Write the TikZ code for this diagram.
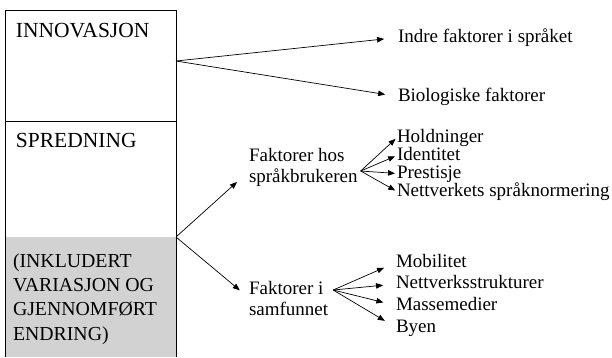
\documentclass[tikz,border=0pt]{standalone}
\usepackage{fontspec}
\setmainfont{Liberation Serif}
\newfontfamily\tidfont{Liberation Serif}
\usetikzlibrary{arrows.meta,positioning,calc}
\tikzset{pil/.style={-{Triangle[length=7pt,width=5.5pt]}, line width=0.7pt}}
\newcommand\overskrift{\tidfont\fontsize{21.5}{24}\selectfont}
\newcommand\boksfont{\tidfont\fontsize{19.8}{24.3}\selectfont}
\newcommand\liten{\tidfont\fontsize{19}{21}\selectfont}

\begin{document}
\begin{tikzpicture}[x=1pt, y=-1pt, every node/.style={inner sep=0pt, outer sep=0pt},
    faktor/.style={font=\liten, text height=13pt, text depth=4pt, anchor=west}]
  \useasboundingbox (0,0) rectangle (612,357);

  % boksen til venstre
  \fill[gray!35] (5,237) rectangle (176,357);
  \draw[line width=0.8pt] (5,357) -- (5,10) -- (176,10) -- (176,357);
  \draw[line width=0.8pt] (5,121) -- (176,121);
  \node[anchor=base west, font=\overskrift] (innov) at (16,37) {INNOVASJON};
  \node[anchor=base west, font=\overskrift] (spred) at (16,147) {SPREDNING};
  \node[anchor=north west, align=left, font=\boksfont] (inkl) at (13,253.5)
    {(INKLUDERT\\VARIASJON OG\\GJENNOMFØRT\\ENDRING)};
  \coordinate (innout) at (176,61);
  \coordinate (spredout) at (176,237);

  % innovasjon
  \node[faktor] (indre) at (398,37.5) {Indre faktorer i språket};
  \node[faktor] (bio) at (398,96.5) {Biologiske faktorer};
  \draw[pil, shorten >=14pt] (innout) -- (indre.west);
  \draw[pil, shorten >=13pt] (innout) -- (bio.west);

  % spredning
  \node[anchor=west, align=left, font=\liten] (fhos) at (249,167) {Faktorer hos\\språkbrukeren};
  \node[anchor=west, align=left, font=\liten] (fsam) at (249,298) {Faktorer i\\samfunnet};
  \draw[pil] (spredout) -- ($(fhos.west)+(-12,15)$);
  \draw[pil, shorten >=12pt] (spredout) -- (fsam.west);

  \node[faktor] (hold) at (397,137.5) {Holdninger};
  \node[faktor] (ident) at (397,155.5) {Identitet};
  \node[faktor] (prest) at (397,173.5) {Prestisje};
  \node[faktor] (nett) at (397,191.5) {Nettverkets språknormering};
  \foreach \m in {hold,ident,prest,nett}
    \draw[pil, shorten >=2pt] ($(fhos.east)+(3,4)$) -- (\m.west);

  \node[faktor] (mob) at (396,262.5) {Mobilitet};
  \node[faktor] (nvs) at (396,284) {Nettverksstrukturer};
  \node[faktor] (masse) at (396,305.5) {Massemedier};
  \node[faktor] (byen) at (396,327.5) {Byen};
  \foreach \m in {mob,nvs,masse,byen}
    \draw[pil, shorten >=13pt] ($(fsam.east)+(5,-8)$) -- (\m.west);
\end{tikzpicture}
\end{document}
